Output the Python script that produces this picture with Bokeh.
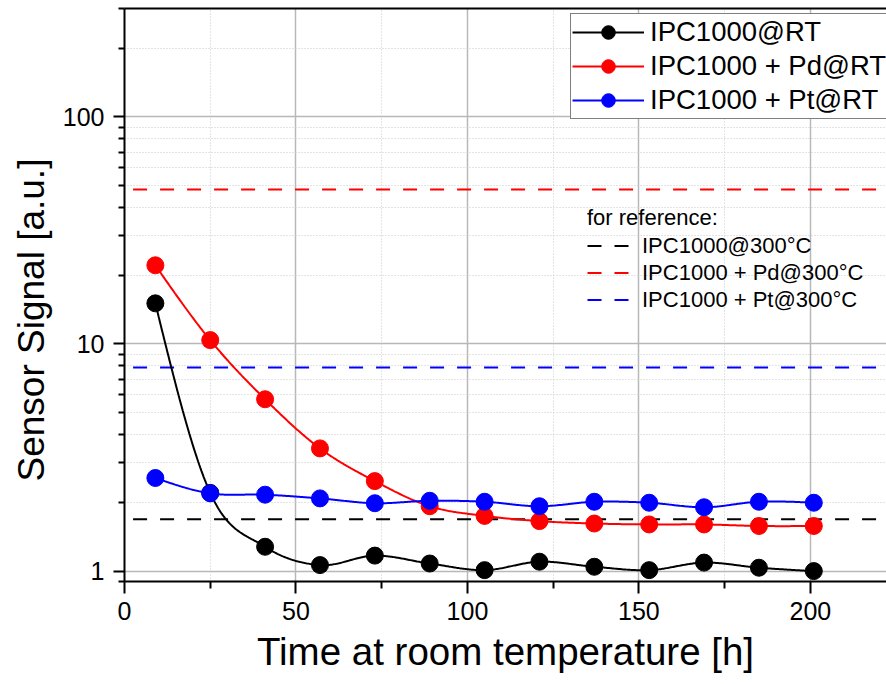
import numpy as np
from bokeh.plotting import figure
from bokeh.models import Range1d, FixedTicker, LinearAxis, Legend, LegendItem, Title
from bokeh.embed import file_html
from bokeh.resources import INLINE

# ---------------- data ----------------
time_h = [9, 25, 41, 57, 73, 89, 105, 121, 137, 153, 169, 185, 201]
ipc_rt = [15.1, 2.21, 1.28, 1.063, 1.17, 1.08, 1.01, 1.10, 1.045, 1.01, 1.09, 1.035, 1.0]
ipc_pd_rt = [22.2, 10.4, 5.71, 3.47, 2.49, 1.93, 1.75, 1.66, 1.62, 1.605, 1.605, 1.58, 1.58]
ipc_pt_rt = [2.57, 2.20, 2.17, 2.09, 1.99, 2.04, 2.02, 1.93, 2.02, 2.0, 1.91, 2.02, 2.0]

ref_x = [2.5, 222.2]
ref_ipc_300 = 1.69
ref_pd_300 = 47.9
ref_pt_300 = 7.87

x_ticks = [0, 50, 100, 150, 200]
x_minor = [25, 75, 125, 175]
y_ticks = [1, 10, 100]
y_minor = [0.9, 2, 3, 4, 5, 6, 7, 8, 9, 20, 30, 40, 50, 60, 70, 80, 90, 200, 300]

FONT = "Liberation Sans"


def smooth_log(x, y, xs):
    """Cubic Hermite (Catmull-Rom like) curve through the points, in log space."""
    x = np.asarray(x, float)
    ly = np.log10(np.asarray(y, float))
    h = np.diff(x)
    s = np.diff(ly) / h
    n = len(x)
    d = np.zeros(n)
    for k in range(1, n - 1):
        d[k] = (s[k - 1] * h[k] + s[k] * h[k - 1]) / (h[k - 1] + h[k])
    d[0] = 1.5 * s[0] - 0.5 * d[1]
    d[-1] = 1.5 * s[-1] - 0.5 * d[-2]
    idx = np.clip(np.searchsorted(x, xs) - 1, 0, n - 2)
    t = (xs - x[idx]) / h[idx]
    h00 = 2 * t**3 - 3 * t**2 + 1
    h10 = t**3 - 2 * t**2 + t
    h01 = -2 * t**3 + 3 * t**2
    h11 = t**3 - t**2
    v = h00 * ly[idx] + h10 * h[idx] * d[idx] + h01 * ly[idx + 1] + h11 * h[idx] * d[idx + 1]
    return 10 ** v


xs = np.linspace(time_h[0], time_h[-1], 600)

p = figure(width=886, height=684, y_axis_type="log",
           x_range=Range1d(0, 222.2), y_range=Range1d(0.9, 300),
           output_backend="svg", toolbar_location=None,
           min_border_left=124, min_border_right=0, min_border_top=8, min_border_bottom=103)
p.outline_line_color = None
p.background_fill_color = "white"
p.border_fill_color = "white"

# axes
xa = p.xaxis[0]
xa.ticker = FixedTicker(ticks=x_ticks, minor_ticks=x_minor)
ya = p.yaxis[0]
ya.ticker = FixedTicker(ticks=y_ticks, minor_ticks=y_minor)
ya.major_label_overrides = {1: "1", 10: "10", 100: "100"}

for ax in (xa, ya):
    ax.axis_line_width = 2
    ax.axis_line_color = "black"
    ax.major_tick_line_width = 2
    ax.minor_tick_line_width = 2
    ax.major_tick_in = 0
    ax.minor_tick_in = 0
    ax.major_label_text_font = FONT
    ax.major_label_text_font_size = "25px"
    ax.major_label_text_color = "black"
    ax.axis_label_text_font = FONT
    ax.axis_label_text_font_style = "normal"
    ax.axis_label_text_color = "black"

xa.major_tick_out = 12
xa.minor_tick_out = 7
xa.major_label_standoff = 8
xa.axis_label = "Time at room temperature [h]"
xa.axis_label_text_font_size = "38.5px"
xa.axis_label_standoff = 7
ya.major_tick_out = 11
ya.minor_tick_out = 6
ya.major_label_standoff = 9

ylab = Title(text="Sensor Signal [a.u.]", align="left", offset=100, vertical_align="top",
             standoff=12, text_font=FONT, text_font_size="37px", text_font_style="normal",
             text_color="black")
p.add_layout(ylab, "left")

top = LinearAxis(ticker=FixedTicker(ticks=[]), major_label_text_font_size="0px",
                 major_tick_out=0, major_tick_in=0, minor_tick_out=0, minor_tick_in=0,
                 axis_line_width=2, axis_line_color="black", major_label_standoff=0)
p.add_layout(top, "above")

# grids
for g in (p.xgrid[0], p.ygrid[0]):
    g.grid_line_color = "#b8b8b8"
    g.grid_line_width = 1.5
    g.minor_grid_line_color = "#c8c8c8"
    g.minor_grid_line_dash = "1 2"
    g.minor_grid_line_width = 1

# reference (300 C) dashed lines
dash = "14 13"
r_ref1 = p.line(ref_x, [ref_ipc_300] * 2, line_color="black", line_width=2, line_dash=dash)
r_ref2 = p.line(ref_x, [ref_pd_300] * 2, line_color="#ff0000", line_width=2, line_dash=dash)
r_ref3 = p.line(ref_x, [ref_pt_300] * 2, line_color="#0000ff", line_width=2, line_dash=dash)

items = []
for vals, col, lab in ((ipc_rt, "black", "IPC1000@RT"),
                       (ipc_pd_rt, "#ff0000", "IPC1000 + Pd@RT"),
                       (ipc_pt_rt, "#0000ff", "IPC1000 + Pt@RT")):
    lr = p.line(xs, smooth_log(time_h, vals, xs), line_color=col, line_width=2)
    sr = p.scatter(time_h, vals, size=17, marker="circle", fill_color=col, line_color=col)
    items.append(LegendItem(label=lab, renderers=[lr, sr]))

main = Legend(items=items, location=(446, 462), margin=0, padding=1, spacing=0,
              glyph_width=72, glyph_height=34, label_height=34, label_standoff=6,
              label_text_font=FONT, label_text_font_size="27.5px", label_text_color="black",
              border_line_color="black", border_line_width=1.5,
              background_fill_color="white", background_fill_alpha=1.0)
p.add_layout(main)

ref = Legend(items=[LegendItem(label="IPC1000@300°C", renderers=[r_ref1]),
                    LegendItem(label="IPC1000 + Pd@300°C", renderers=[r_ref2]),
                    LegendItem(label="IPC1000 + Pt@300°C", renderers=[r_ref3])],
             title="for reference:", title_text_font=FONT, title_text_font_size="22px",
             title_text_font_style="normal", title_text_color="black", title_standoff=1,
             location=(463, 268), margin=0, padding=0, spacing=0,
             glyph_width=42, glyph_height=27, label_height=27, label_standoff=13,
             label_text_font=FONT, label_text_font_size="22px", label_text_color="black",
             border_line_color=None, background_fill_alpha=0.0)
p.add_layout(ref)

open("out.html", "w").write(file_html(p, INLINE))
